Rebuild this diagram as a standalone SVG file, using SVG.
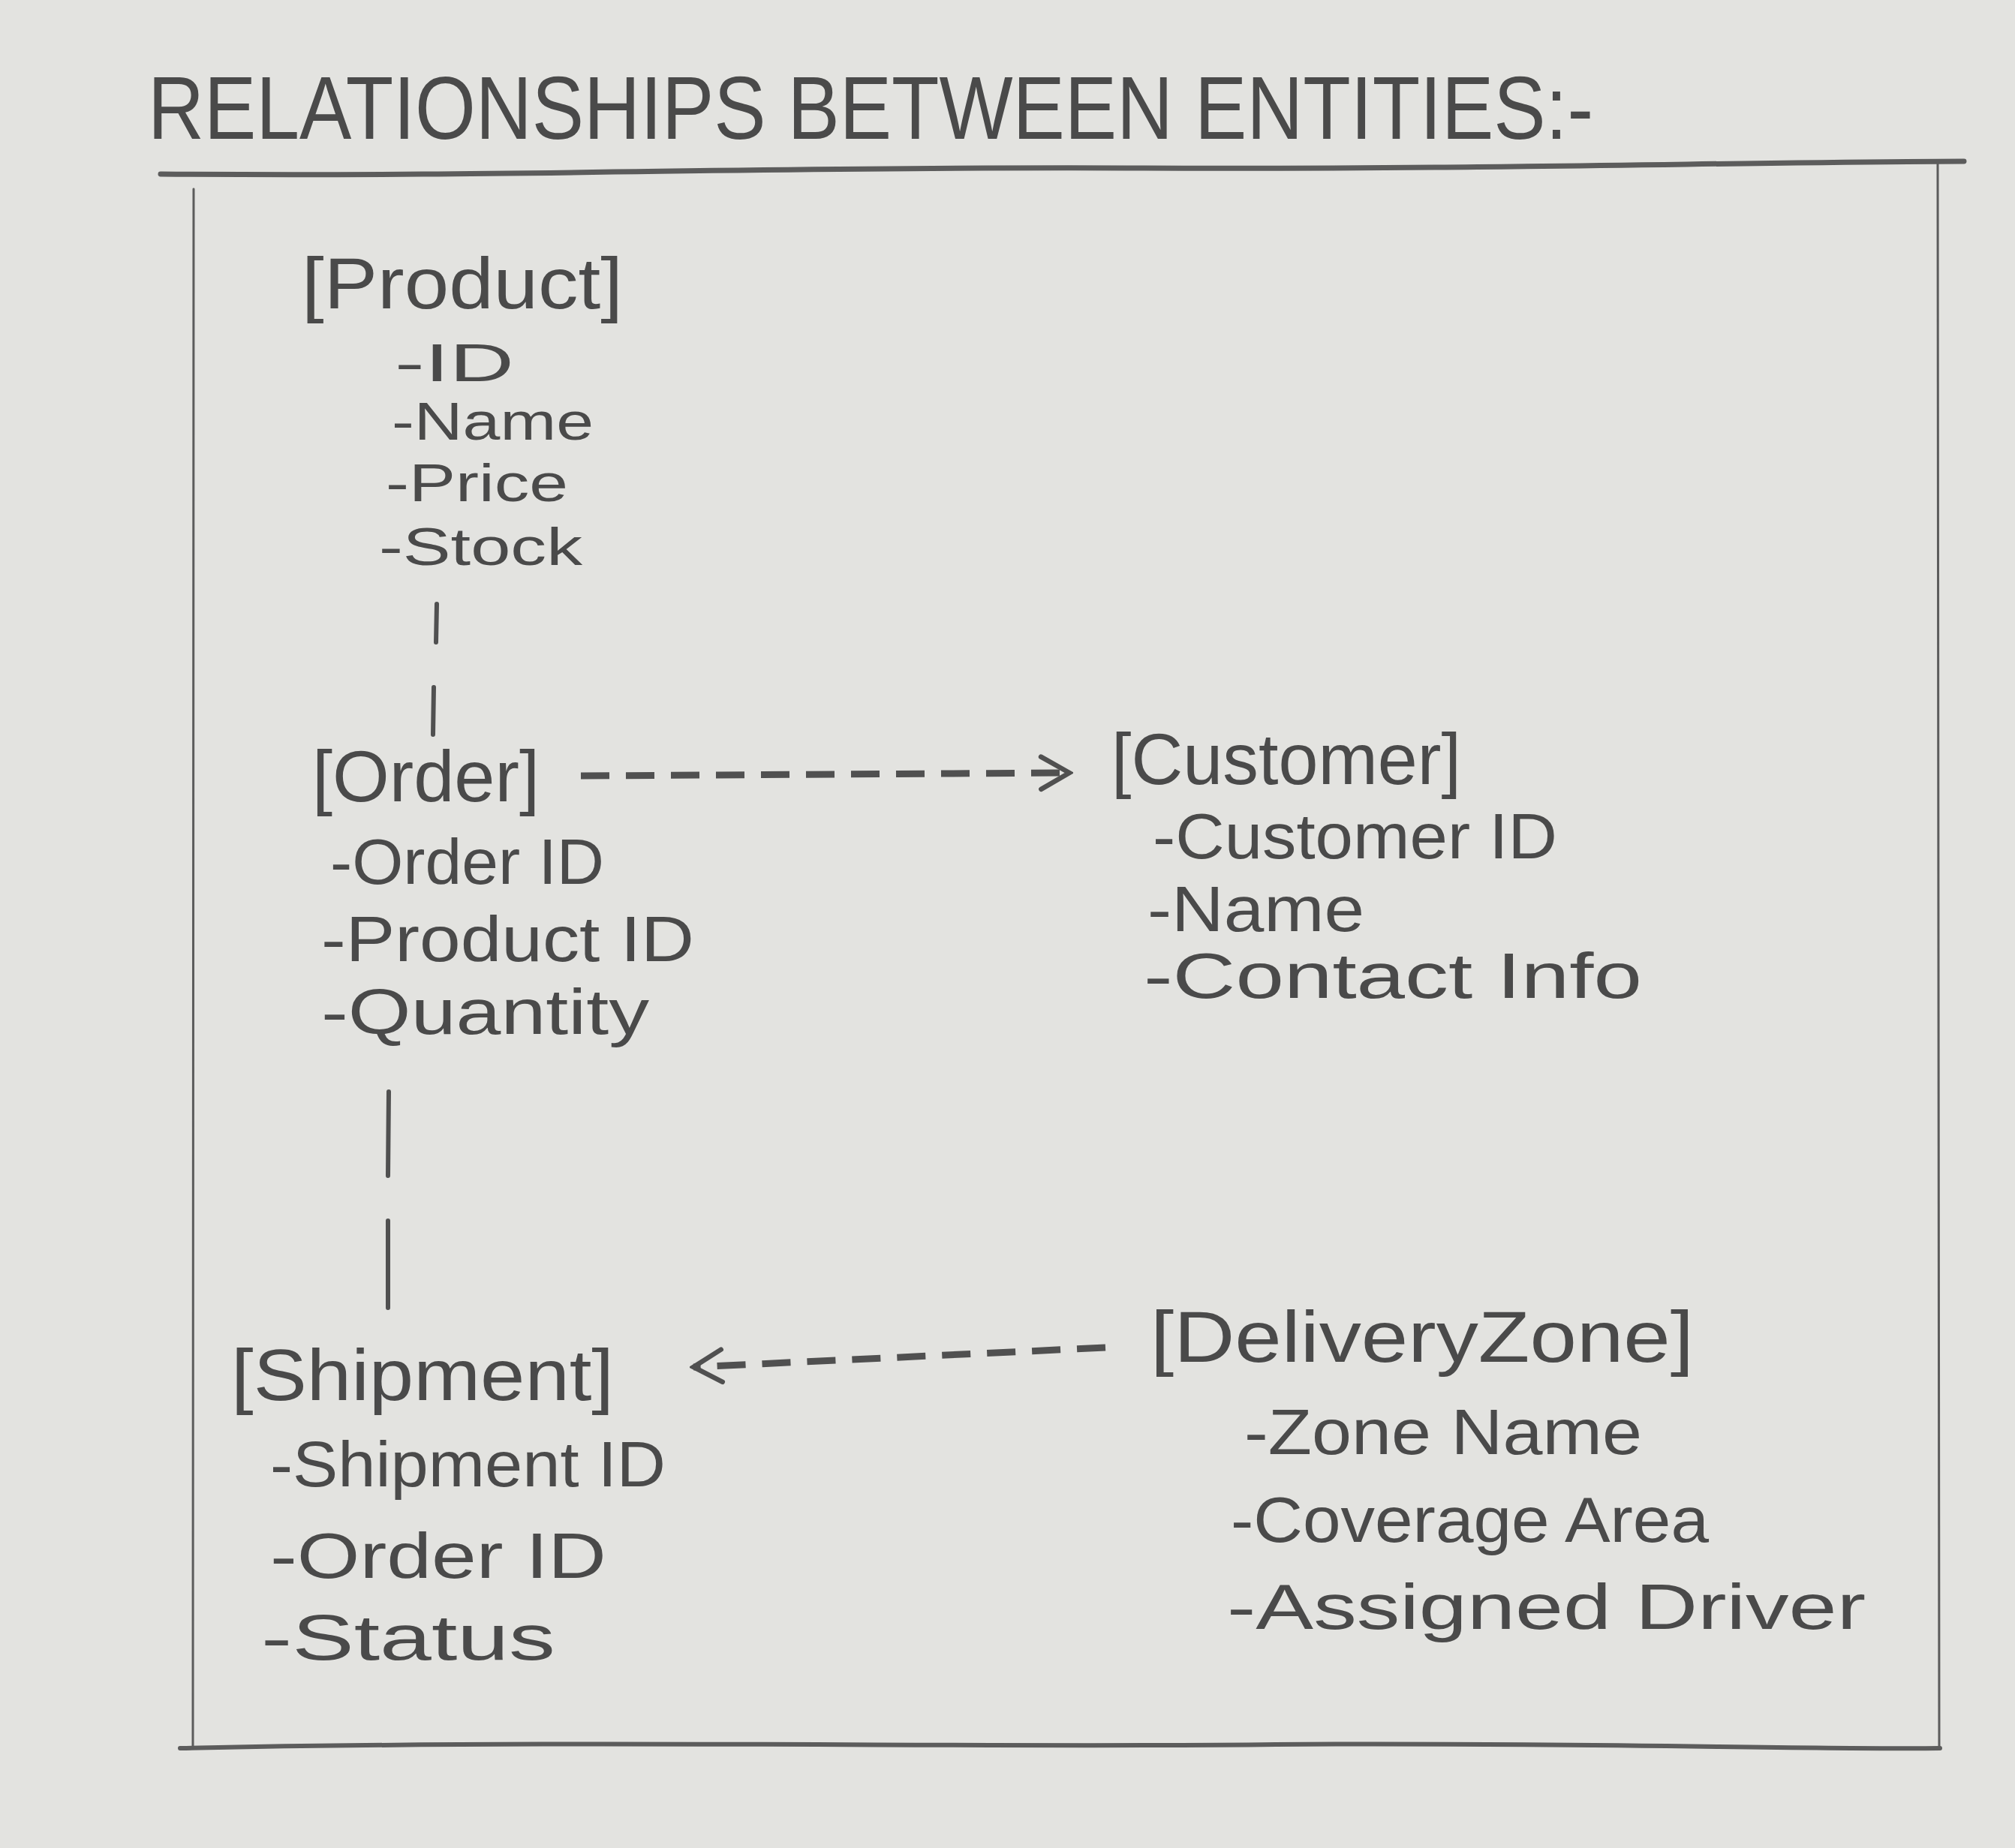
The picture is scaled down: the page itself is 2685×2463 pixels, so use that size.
<svg xmlns="http://www.w3.org/2000/svg" width="2685" height="2463" viewBox="0 0 2685 2463">
<style>
  text { font-family: "Liberation Sans", "DejaVu Sans", sans-serif; fill: #4a4a4a; }
  .title { font-size: 118px; }
  .head { font-size: 96px; }
  .attr { font-size: 86px; }
  .small { font-size: 70px; }
  .frame { stroke: #5c5c5c; fill: none; stroke-linecap: round; }
  .tick { stroke: #505050; stroke-width: 6; stroke-linecap: round; fill: none; }
  .dash { stroke: #505050; stroke-width: 9; fill: none; stroke-dasharray: 38 22; }
</style>
<defs>
  <marker id="chev" viewBox="0 0 20 20" refX="18" refY="10" markerWidth="6" markerHeight="6" markerUnits="strokeWidth" orient="auto">
    <path d="M4,2 L18,10 L4,18" fill="none" stroke="#505050" stroke-width="2.4" stroke-linecap="round"/>
  </marker>
</defs>
<rect x="0" y="0" width="2685" height="2463" fill="#e3e3e0"/>

<g id="title">
  <text class="title" x="197" y="185" textLength="1926" lengthAdjust="spacingAndGlyphs">RELATIONSHIPS BETWEEN ENTITIES:-</text>
  <path class="frame" stroke-width="7" d="M214,232 C700,236 1000,222 1500,224 C2000,226 2300,216 2617,215"/>
</g>

<g id="frame">
  <path class="frame" stroke-width="3" d="M258,252 L257,2330"/>
  <path class="frame" stroke-width="3" d="M2582,218 L2584,2328"/>
  <path class="frame" stroke-width="6" d="M240,2330 C800,2318 1300,2330 1700,2325 C2100,2322 2400,2332 2585,2330"/>
</g>

<g id="connectors">
  <line class="tick" x1="582" y1="805" x2="581" y2="856"/>
  <line class="tick" x1="578" y1="916" x2="577" y2="979"/>
  <line class="tick" x1="518" y1="1455" x2="517" y2="1567"/>
  <line class="tick" x1="517" y1="1627" x2="517" y2="1743"/>
  <path class="dash" d="M774,1034 L1425,1030" marker-end="url(#chev)"/>
  <path class="dash" d="M1473,1796 L924,1822" marker-end="url(#chev)"/>
</g>

<g id="product">
  <text class="head" x="402" y="411" textLength="428" lengthAdjust="spacingAndGlyphs">[Product]</text>
  <text class="small" x="526" y="508" textLength="159" lengthAdjust="spacingAndGlyphs">-ID</text>
  <text class="small" x="522" y="586" textLength="269" lengthAdjust="spacingAndGlyphs">-Name</text>
  <text class="small" x="514" y="668" textLength="243" lengthAdjust="spacingAndGlyphs">-Price</text>
  <text class="small" x="505" y="753" textLength="271" lengthAdjust="spacingAndGlyphs">-Stock</text>
</g>

<g id="order">
  <text class="head" x="416" y="1068" textLength="303" lengthAdjust="spacingAndGlyphs">[Order]</text>
  <text class="attr" x="440" y="1178" textLength="365" lengthAdjust="spacingAndGlyphs">-Order ID</text>
  <text class="attr" x="428" y="1281" textLength="497" lengthAdjust="spacingAndGlyphs">-Product ID</text>
  <text class="attr" x="428" y="1378" textLength="437" lengthAdjust="spacingAndGlyphs">-Quantity</text>
</g>

<g id="customer">
  <text class="head" x="1481" y="1045" textLength="466" lengthAdjust="spacingAndGlyphs">[Customer]</text>
  <text class="attr" x="1536" y="1144" textLength="539" lengthAdjust="spacingAndGlyphs">-Customer ID</text>
  <text class="attr" x="1529" y="1241" textLength="289" lengthAdjust="spacingAndGlyphs">-Name</text>
  <text class="attr" x="1524" y="1330" textLength="664" lengthAdjust="spacingAndGlyphs">-Contact Info</text>
</g>

<g id="shipment">
  <text class="head" x="308" y="1866" textLength="510" lengthAdjust="spacingAndGlyphs">[Shipment]</text>
  <text class="attr" x="360" y="1981" textLength="527" lengthAdjust="spacingAndGlyphs">-Shipment ID</text>
  <text class="attr" x="360" y="2103" textLength="448" lengthAdjust="spacingAndGlyphs">-Order ID</text>
  <text class="attr" x="348" y="2212" textLength="392" lengthAdjust="spacingAndGlyphs">-Status</text>
</g>

<g id="deliveryzone">
  <text class="head" x="1533" y="1815" textLength="724" lengthAdjust="spacingAndGlyphs">[DeliveryZone]</text>
  <text class="attr" x="1658" y="1938" textLength="530" lengthAdjust="spacingAndGlyphs">-Zone Name</text>
  <text class="attr" x="1640" y="2055" textLength="637" lengthAdjust="spacingAndGlyphs">-Coverage Area</text>
  <text class="attr" x="1635" y="2171" textLength="851" lengthAdjust="spacingAndGlyphs">-Assigned Driver</text>
</g>
</svg>
